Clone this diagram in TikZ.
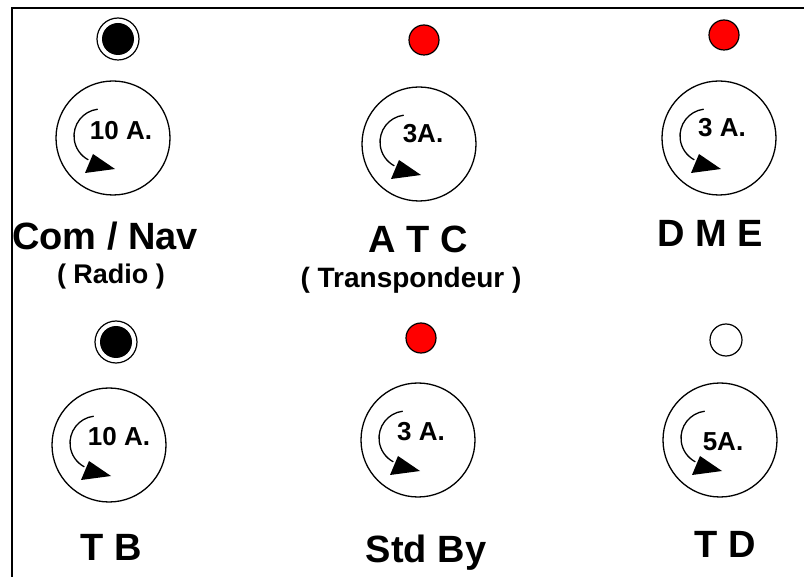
\documentclass[tikz,border=0pt]{standalone}
\usepackage{fontspec}
\setmainfont{Liberation Sans}
\begin{document}
\begin{tikzpicture}[x=1pt,y=-1pt,
  knob/.style={circle,draw,line width=1.3pt,minimum size=114pt,inner sep=0pt},
  ledred/.style={circle,draw,line width=1.2pt,fill=red,minimum size=30pt,inner sep=0pt},
  ledwhite/.style={circle,draw,line width=1.2pt,fill=white,minimum size=32pt,inner sep=0pt},
  ledblack/.style={circle,draw,line width=1.2pt,minimum size=42pt,inner sep=0pt},
  amp/.style={anchor=base,inner sep=0pt,font=\fontsize{26}{26}\selectfont\bfseries},
  big/.style={anchor=base,inner sep=0pt,font=\fontsize{38}{38}\selectfont\bfseries},
  sub/.style={anchor=base,inner sep=0pt,font=\fontsize{28}{28}\selectfont\bfseries},
  turn/.style={line width=1.3pt}]
\useasboundingbox (0,0) rectangle (804,577);
\draw[line width=2pt] (12,577) -- (12,8.5) -- (804,8.5);

% LEDs
\node[ledblack] (l1) at (118,39) {};
\fill (l1.center) circle (16);
\node[ledred] (l2) at (424,40) {};
\node[ledred] (l3) at (724,35) {};
\node[ledblack] (l4) at (116,342) {};
\fill (l4.center) circle (16);
\node[ledred] (l5) at (421,338) {};
\node[ledwhite] (l6) at (726,340) {};

% knobs
\node[knob] (k1) at (113,138) {};
\node[knob] (k2) at (419,144) {};
\node[knob] (k3) at (719,138) {};
\node[knob] (k4) at (109,445) {};
\node[knob] (k5) at (418,440) {};
\node[knob] (k6) at (720,440) {};

\foreach \k in {k1,k2,k3,k4,k5,k6}{
  \draw[turn,shift={(\k.center)}] (-12,-2) ++(263:27) arc[start angle=263,end angle=118,radius=27];
  \fill[shift={(\k.center)}] (-28,35) -- (-20,16) -- (2,31) -- cycle;
}

% knob texts
\node[amp] (a1) at (121,140) {10 A.};
\node[amp] (a2) at (423,143) {3A.};
\node[amp] (a3) at (722,137) {3 A.};
\node[amp] (a4) at (119,446) {10 A.};
\node[amp] (a5) at (421,441) {3 A.};
\node[amp] (a6) at (723,450) {5A.};

% labels
\node[big] (t1) at (105,250) {Com / Nav};
\node[sub,font=\fontsize{27}{27}\selectfont\bfseries] (s1) at (111,284) {( Radio )};
\node[big] (t2) at (418,253) {A T C};
\node[sub] (s2) at (411,288) {( Transpondeur )};
\node[big] (t3) at (710,247) {D M E};
\node[big] (t4) at (111,560) {T B};
\node[big] (t5) at (426,562) {Std By};
\node[big] (t6) at (725,557) {T D};
\end{tikzpicture}
\end{document}
